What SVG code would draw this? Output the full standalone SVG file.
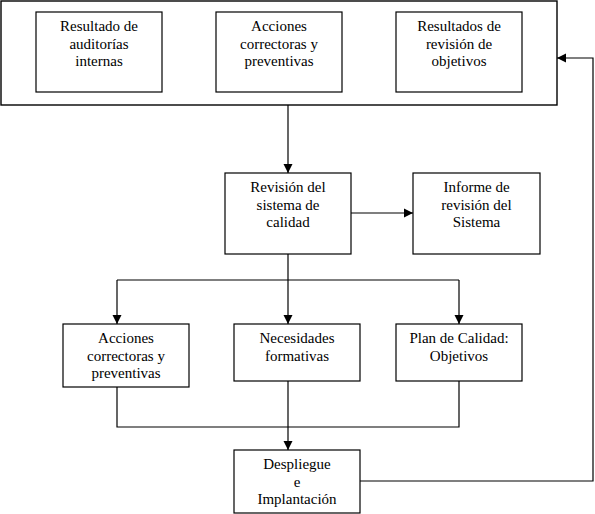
<svg xmlns="http://www.w3.org/2000/svg" width="595" height="514" viewBox="0 0 595 514">
<style>
.box{fill:#fff;stroke:#000;stroke-width:1.2}
.outer{fill:#fff;stroke:#000;stroke-width:1.4}
.t{font-family:"Liberation Serif","Times New Roman",serif;font-size:15px;fill:#000;text-anchor:middle}
.c{fill:none;stroke:#000;stroke-width:1.2}
</style>
<defs>
<marker id="ah" markerUnits="userSpaceOnUse" markerWidth="10" markerHeight="10" refX="9" refY="5" orient="auto">
<path d="M0,0.5 L9,5 L0,9.5 Z" fill="#000"/>
</marker>
</defs>
<rect width="595" height="514" fill="#fff"/>
<g id="entradas">
<rect class="outer" x="1" y="1" width="556" height="104"/>
</g>
<g id="n1">
<rect class="box" x="36" y="12" width="126" height="80"/>
<text class="t" x="99" y="31">Resultado de</text>
<text class="t" x="99" y="48.5">auditorías</text>
<text class="t" x="99" y="66">internas</text>
</g>
<g id="n2">
<rect class="box" x="216" y="12" width="126" height="80"/>
<text class="t" x="279" y="31">Acciones</text>
<text class="t" x="279" y="48.5">correctoras y</text>
<text class="t" x="279" y="66">preventivas</text>
</g>
<g id="n3">
<rect class="box" x="396" y="12" width="126" height="80"/>
<text class="t" x="459" y="31">Resultados de</text>
<text class="t" x="459" y="48.5">revisión de</text>
<text class="t" x="459" y="66">objetivos</text>
</g>
<g id="n4">
<rect class="box" x="225" y="173" width="126" height="81"/>
<text class="t" x="288" y="192">Revisión del</text>
<text class="t" x="288" y="209.5">sistema de</text>
<text class="t" x="288" y="227">calidad</text>
</g>
<g id="n5">
<rect class="box" x="413" y="173" width="127" height="81"/>
<text class="t" x="476.5" y="192">Informe de</text>
<text class="t" x="476.5" y="209.5">revisión del</text>
<text class="t" x="476.5" y="227">Sistema</text>
</g>
<g id="n6">
<rect class="box" x="63" y="324" width="126" height="63"/>
<text class="t" x="126" y="343">Acciones</text>
<text class="t" x="126" y="360.5">correctoras y</text>
<text class="t" x="126" y="378">preventivas</text>
</g>
<g id="n7">
<rect class="box" x="234" y="324" width="126" height="57"/>
<text class="t" x="297" y="343">Necesidades</text>
<text class="t" x="297" y="360.5">formativas</text>
</g>
<g id="n8">
<rect class="box" x="396" y="324" width="126" height="57"/>
<text class="t" x="459" y="343">Plan de Calidad:</text>
<text class="t" x="459" y="360.5">Objetivos</text>
</g>
<g id="n9">
<rect class="box" x="234" y="450" width="126" height="63"/>
<text class="t" x="297" y="469">Despliegue</text>
<text class="t" x="297" y="486.5">e</text>
<text class="t" x="297" y="504">Implantación</text>
</g>
<g id="connectors">
<path class="c" d="M288,105 V173" marker-end="url(#ah)"/>
<path class="c" d="M351,213 H413" marker-end="url(#ah)"/>
<path class="c" d="M288,254 V324" marker-end="url(#ah)"/>
<path class="c" d="M117,280 H459"/>
<path class="c" d="M117,280 V324" marker-end="url(#ah)"/>
<path class="c" d="M459,280 V324" marker-end="url(#ah)"/>
<path class="c" d="M117,387 V427 H459 V381"/>
<path class="c" d="M288,381 V450" marker-end="url(#ah)"/>
<path class="c" d="M360,481 H593 V58 H557" marker-end="url(#ah)"/>
</g>
</svg>
